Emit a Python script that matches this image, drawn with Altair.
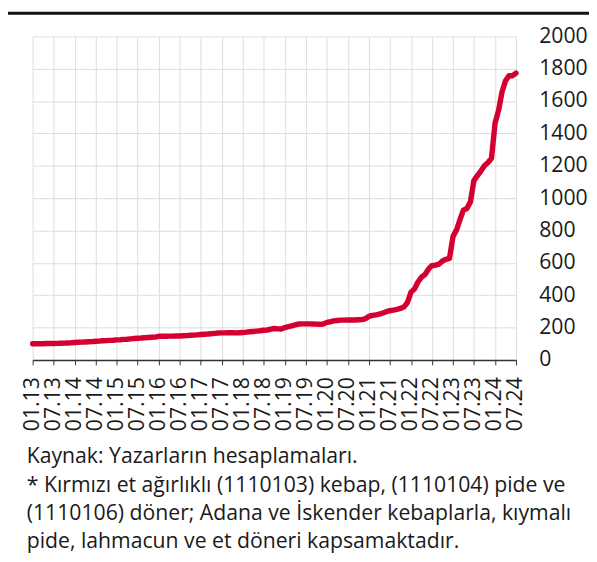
import altair as alt
import pandas as pd

# Monthly index values, 01.2013 - 07.2024
v2013 = [100, 100, 100, 100, 101, 101, 101, 102, 103, 104, 105, 106]
v2014 = [108, 109, 110, 111, 112, 113, 115, 116, 118, 119, 121, 122]
v2015 = [124, 125, 127, 128, 130, 132, 134, 135, 137, 139, 140, 141]
v2016 = [146, 146, 146, 147, 147, 148, 148, 149, 150, 152, 153, 155]
v2017 = [157, 159, 160, 162, 164, 166, 167, 167, 168, 168, 167, 168]
v2018 = [169, 172, 174, 176, 178, 180, 183, 185, 190, 194, 192, 191]
v2019 = [200, 206, 211, 217, 222, 223, 223, 223, 222, 221, 220, 222]
v2020 = [232, 236, 241, 244, 246, 246, 247, 247, 247, 248, 249, 255]
v2021 = [270, 275, 278, 283, 290, 298, 304, 308, 312, 318, 328, 355]
v2022 = [419, 440, 480, 511, 527, 561, 582, 586, 592, 612, 622, 628]
v2023 = [764, 804, 865, 926, 936, 977, 1108, 1139, 1169, 1200, 1220, 1246]
v2024 = [1463, 1544, 1655, 1726, 1757, 1757, 1773]

values = v2013 + v2014 + v2015 + v2016 + v2017 + v2018 + v2019 + v2020 + v2021 + v2022 + v2023 + v2024
dates = pd.date_range("2013-01-01", periods=len(values), freq="MS")

tick_years = list(range(2013, 2025))
y_ticks = list(range(0, 2001, 200))

footnote = [
    "Kaynak: Yazarların hesaplamaları.",
    "* Kırmızı et ağırlıklı (1110103) kebap, (1110104) pide ve",
    "(1110106) döner; Adana ve İskender kebaplarla, kıymalı",
    "pide, lahmacun ve et döneri kapsamaktadır.",
]

df = pd.DataFrame({"date": dates, "value": values})

x_values = []
for yr in tick_years:
    x_values.append(alt.DateTime(year=yr, month=1, date=1))
    x_values.append(alt.DateTime(year=yr, month=7, date=1))

FONT = "Open Sans"

line = alt.Chart(df).mark_line(
    color="#D50032", strokeWidth=5.5, strokeJoin="round", strokeCap="round"
).encode(
    x=alt.X(
        "date:T",
        title=None,
        scale=alt.Scale(
            domain=[alt.DateTime(year=2013, month=1, date=1), alt.DateTime(year=2024, month=7, date=1)],
            nice=False,
        ),
        axis=alt.Axis(
            values=x_values,
            format="%m.%y",
            labelAngle=270,
            labelAlign="right",
            labelBaseline="middle",
            labelFontSize=21.5,
            labelFont=FONT,
            labelColor="#1a1a1a",
            labelPadding=12,
            labelOverlap=False,
            labelFlush=False,
            tickSize=5,
            tickColor="#333333",
            domainColor="#333333",
            domainWidth=1.5,
            grid=True,
            gridColor="#dcdcdc",
            gridWidth=1,
        ),
    ),
    y=alt.Y(
        "value:Q",
        title=None,
        scale=alt.Scale(domain=[0, 2000], nice=False),
        axis=alt.Axis(
            orient="right",
            values=y_ticks,
            format="d",
            labelFontSize=21.5,
            labelFont=FONT,
            labelColor="#1a1a1a",
            labelPadding=23,
            ticks=False,
            tickSize=0,
            domain=False,
            grid=True,
            gridColor="#dcdcdc",
            gridWidth=1,
        ),
    ),
)

top_rule = alt.Chart(pd.DataFrame({"a": [0]})).mark_rule(
    color="#111111", strokeWidth=3
).encode(
    x=alt.value(-30),
    x2=alt.value(570),
    y=alt.value(-23.5),
)

note = alt.Chart(pd.DataFrame({"t": [footnote]})).mark_text(
    align="left",
    baseline="alphabetic",
    font=FONT,
    fontSize=21.5,
    lineHeight=28.5,
    color="#1a1a1a",
).encode(
    text="t",
    x=alt.value(-6),
    y=alt.value(433),
)

chart = alt.layer(top_rule, line, note).properties(
    width=490,
    height=328,
    autosize=alt.AutoSizeParams(type="none"),
    padding={"left": 25, "top": 25, "right": 74, "bottom": 193},
).configure_view(strokeWidth=0)

chart.save("out.html", embed_options={"renderer": "svg", "actions": False})
